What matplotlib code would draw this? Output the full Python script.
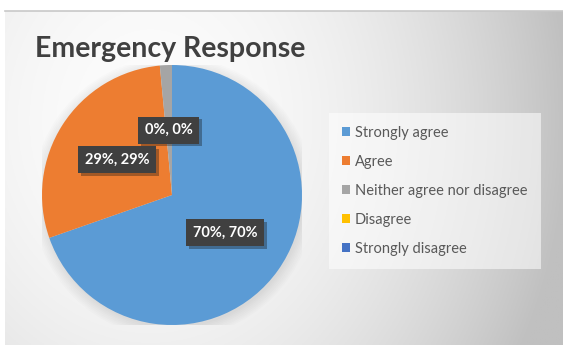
import numpy as np
import matplotlib.pyplot as plt
from matplotlib.patches import Patch
import matplotlib.patheffects as pe

# data
categories = ["Strongly agree", "Agree", "Neither agree nor disagree", "Disagree", "Strongly disagree"]
values = [70, 29, 1.5, 0, 0]
point_labels = ["70%, 70%", "29%, 29%", "0%, 0%", "", ""]
colors = ["#5B9BD5", "#ED7D31", "#A5A5A5", "#FFC000", "#4472C4"]
title = "Emergency Response"

plt.rcParams['font.family'] = ['Lato', 'DejaVu Sans']

W, H = 563, 345
fig = plt.figure(figsize=(W / 100, H / 100), dpi=100)
fig.patch.set_facecolor("white")

# background with soft gradient (chart area)
bg = fig.add_axes([5 / W, 0, 1 - 5 / W, (H - 11) / H])
xx, yy = np.meshgrid(np.linspace(5, W, 300), np.linspace(11, H, 200))
d = ((xx - 150) / 420) ** 2 + ((yy - 120) / 500) ** 2
v = (252 - 60 * np.clip(d, 0, 1)) / 255
bg.imshow(np.dstack([v, v, v]), extent=[0, 1, 0, 1], origin="upper", aspect="auto")
bg.set_xlim(0, 1)
bg.set_ylim(0, 1)
bg.axis("off")
fig.add_artist(plt.Line2D([5 / W, 1], [(H - 11) / H, (H - 11) / H], color="#c8c8c8", lw=1.2))

# pie
cx, cy, r = 172, 195, 130
ax = fig.add_axes([(cx - r) / W, (H - cy - r) / H, 2 * r / W, 2 * r / H])

# soft shadow
for k in range(8):
    ax.add_patch(plt.Circle((0.01, -0.02), 1 + 0.012 * k, color="black", alpha=0.012, lw=0, zorder=0))

wedges, _ = ax.pie(values, colors=colors, startangle=90, counterclock=False, radius=1)
ax.set_xlim(-1, 1)
ax.set_ylim(-1, 1)
ax.axis("off")

for w, lab in zip(wedges, point_labels):
    if not lab:
        continue
    ang = np.deg2rad((w.theta1 + w.theta2) / 2)
    x, y = 0.5 * np.cos(ang), 0.5 * np.sin(ang)
    t = ax.text(x, y, lab, ha="center", va="center", fontsize=10.5, fontweight="bold", color="white",
                bbox=dict(boxstyle="square,pad=0.45", fc="#404040", ec="none"), zorder=5)
    t.get_bbox_patch().set_path_effects([pe.SimplePatchShadow(offset=(2, -2), alpha=0.35), pe.Normal()])

# title
fig.text(35 / W, (H - 57) / H, title, fontsize=20.5, fontweight="bold", color="#404040", va="baseline")

# legend
handles = [Patch(facecolor=c, edgecolor="none") for c in colors]
leg = fig.legend(handles, categories, loc="upper left", bbox_to_anchor=(333 / W, (H - 117) / H),
                 frameon=True, fontsize=10.5, labelcolor="#595959", handlelength=0.6, handleheight=0.6,
                 handletextpad=0.3, labelspacing=1.03, borderpad=0.6, borderaxespad=0)
leg.get_frame().set_facecolor("white")
leg.get_frame().set_alpha(0.55)
leg.get_frame().set_edgecolor("none")
leg.get_frame().set_boxstyle("square")

fig.savefig("out.png", dpi=100)
